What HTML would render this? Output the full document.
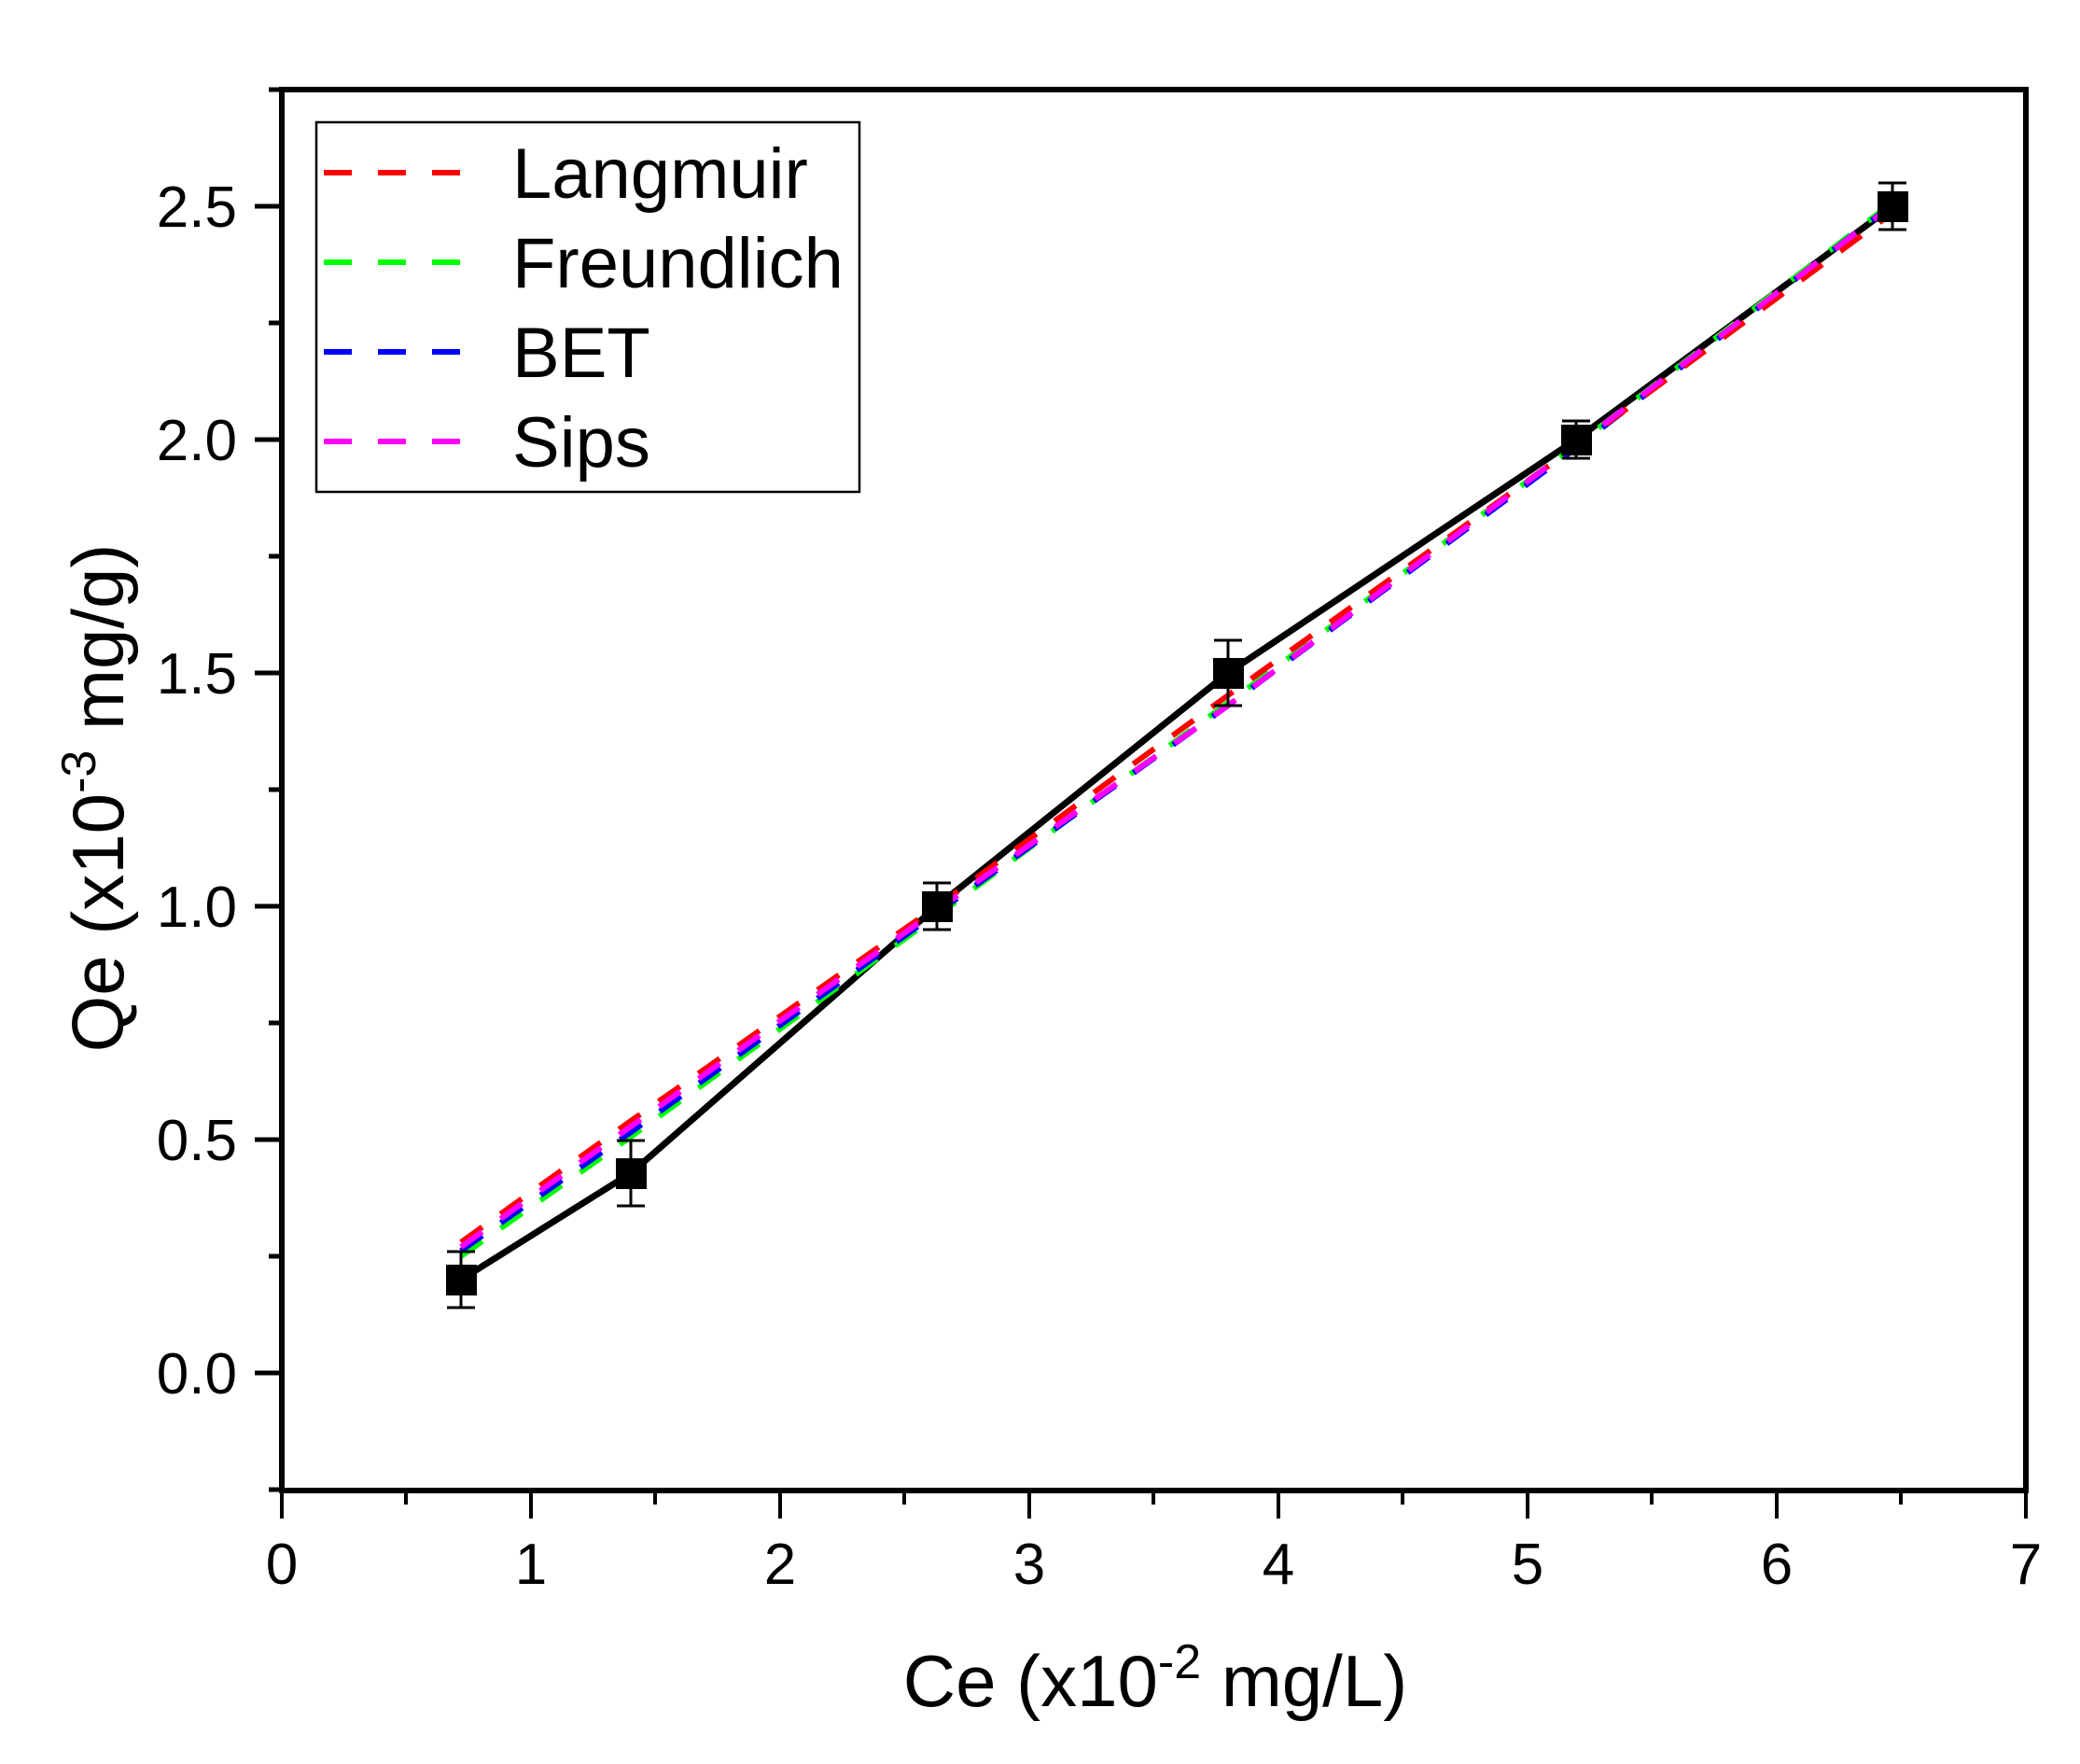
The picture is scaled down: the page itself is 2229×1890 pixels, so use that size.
<!DOCTYPE html>
<html><head><meta charset="utf-8"><style>
html,body{margin:0;padding:0;background:#fff}
svg{display:block}
text{font-family:"Liberation Sans",Arial,sans-serif;fill:#000}
</style></head><body>
<svg width="2229" height="1890" viewBox="0 0 2229 1890" xmlns="http://www.w3.org/2000/svg">
<rect width="2229" height="1890" fill="#fff"/>
<rect x="302" y="96" width="1869" height="1501" fill="none" stroke="#000" stroke-width="6"/>
<g stroke="#000" stroke-width="5">
<line x1="273" y1="221" x2="302" y2="221"/>
<line x1="273" y1="471" x2="302" y2="471"/>
<line x1="273" y1="721" x2="302" y2="721"/>
<line x1="273" y1="971" x2="302" y2="971"/>
<line x1="273" y1="1221" x2="302" y2="1221"/>
<line x1="273" y1="1471" x2="302" y2="1471"/>
<line x1="288" y1="346" x2="302" y2="346"/>
<line x1="288" y1="596" x2="302" y2="596"/>
<line x1="288" y1="846" x2="302" y2="846"/>
<line x1="288" y1="1096" x2="302" y2="1096"/>
<line x1="288" y1="1346" x2="302" y2="1346"/>
<line x1="288" y1="96" x2="302" y2="96"/>
<line x1="288" y1="1596" x2="302" y2="1596"/>
</g>
<g stroke="#000" stroke-width="4">
<line x1="302" y1="1597" x2="302" y2="1627"/>
<line x1="569" y1="1597" x2="569" y2="1627"/>
<line x1="836" y1="1597" x2="836" y2="1627"/>
<line x1="1103" y1="1597" x2="1103" y2="1627"/>
<line x1="1370" y1="1597" x2="1370" y2="1627"/>
<line x1="1637" y1="1597" x2="1637" y2="1627"/>
<line x1="1904" y1="1597" x2="1904" y2="1627"/>
<line x1="2171" y1="1597" x2="2171" y2="1627"/>
<line x1="435" y1="1597" x2="435" y2="1612"/>
<line x1="702" y1="1597" x2="702" y2="1612"/>
<line x1="969" y1="1597" x2="969" y2="1612"/>
<line x1="1236" y1="1597" x2="1236" y2="1612"/>
<line x1="1503" y1="1597" x2="1503" y2="1612"/>
<line x1="1770" y1="1597" x2="1770" y2="1612"/>
<line x1="2037" y1="1597" x2="2037" y2="1612"/>
</g>
<g font-size="62" text-anchor="end">
<text x="254" y="243">2.5</text>
<text x="254" y="493">2.0</text>
<text x="254" y="743">1.5</text>
<text x="254" y="993">1.0</text>
<text x="254" y="1243">0.5</text>
<text x="254" y="1493">0.0</text>
</g>
<g font-size="62" text-anchor="middle">
<text x="302" y="1697">0</text>
<text x="569" y="1697">1</text>
<text x="836" y="1697">2</text>
<text x="1103" y="1697">3</text>
<text x="1370" y="1697">4</text>
<text x="1637" y="1697">5</text>
<text x="1904" y="1697">6</text>
<text x="2171" y="1697">7</text>
</g>
<text x="1238" y="1828" font-size="78" text-anchor="middle">Ce (x10<tspan dy="-30" font-size="52">-2</tspan><tspan dy="30"> mg/L)</tspan></text>
<text transform="translate(132,855) rotate(-90)" font-size="78" text-anchor="middle">Qe (x10<tspan dy="-30" font-size="52">-3</tspan><tspan dy="30"> mg/g)</tspan></text>
<polyline fill="none" stroke="#000" stroke-width="7" points="494,1371 676,1257 1004,971 1316,721 1689,471 2028,221"/>
<g fill="none" stroke-width="6" stroke-dasharray="28,24">
<polyline stroke="#00ff00" points="494,1346 676,1218 1004,981 1316,753 1689,477 2028,217"/>
<polyline stroke="#0000ff" points="494,1340 676,1213 1004,978 1316,756 1689,480 2028,219"/>
<polyline stroke="#ff0000" points="494,1331 676,1201 1004,971 1316,745 1689,478 2028,228"/>
<polyline stroke="#ff00ff" points="494,1336 676,1207 1004,975 1316,756 1689,477 2028,220"/>
</g>
<g stroke="#000" stroke-width="3">
<line x1="494" y1="1341" x2="494" y2="1401"/><line x1="479" y1="1341" x2="509" y2="1341"/><line x1="479" y1="1401" x2="509" y2="1401"/>
<line x1="676" y1="1222" x2="676" y2="1292"/><line x1="661" y1="1222" x2="691" y2="1222"/><line x1="661" y1="1292" x2="691" y2="1292"/>
<line x1="1004" y1="946" x2="1004" y2="996"/><line x1="989" y1="946" x2="1019" y2="946"/><line x1="989" y1="996" x2="1019" y2="996"/>
<line x1="1316" y1="686" x2="1316" y2="756"/><line x1="1301" y1="686" x2="1331" y2="686"/><line x1="1301" y1="756" x2="1331" y2="756"/>
<line x1="1689" y1="451" x2="1689" y2="491"/><line x1="1674" y1="451" x2="1704" y2="451"/><line x1="1674" y1="491" x2="1704" y2="491"/>
<line x1="2028" y1="196" x2="2028" y2="246"/><line x1="2013" y1="196" x2="2043" y2="196"/><line x1="2013" y1="246" x2="2043" y2="246"/>
</g>
<g fill="#000">
<rect x="478" y="1355" width="33" height="33"/>
<rect x="660" y="1241" width="33" height="33"/>
<rect x="988" y="955" width="33" height="33"/>
<rect x="1300" y="705" width="33" height="33"/>
<rect x="1673" y="455" width="33" height="33"/>
<rect x="2012" y="205" width="33" height="33"/>
</g>
<rect x="339" y="131" width="582" height="396" fill="#fff" stroke="#000" stroke-width="2.5"/>
<g stroke-width="6" stroke-dasharray="30,28">
<line x1="347" y1="185" x2="495" y2="185" stroke="#ff0000"/>
<line x1="347" y1="281" x2="495" y2="281" stroke="#00ff00"/>
<line x1="347" y1="377" x2="495" y2="377" stroke="#0000ff"/>
<line x1="347" y1="473" x2="495" y2="473" stroke="#ff00ff"/>
</g>
<g font-size="76">
<text x="549" y="212">Langmuir</text>
<text x="549" y="308">Freundlich</text>
<text x="549" y="404">BET</text>
<text x="549" y="500">Sips</text>
</g>
</svg>
</body></html>
